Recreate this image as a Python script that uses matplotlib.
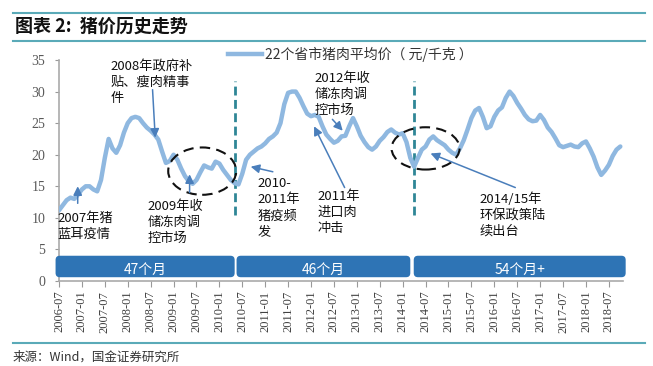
import numpy as np
import pandas as pd
import matplotlib
matplotlib.use("Agg")
import matplotlib.pyplot as plt
from matplotlib.patches import Ellipse, FancyBboxPatch

plt.rcParams["font.family"] = ["Noto Sans CJK SC", "DejaVu Sans"]

# monthly average pork price, 2006-07 .. 2018-10
price = [
    11.2, 12.0, 12.8, 13.2, 13.0, 13.7, 14.5, 15.0, 15.0, 14.5,
    14.2, 16.0, 19.5, 22.5, 21.0, 20.3, 21.5, 23.5, 25.0, 25.8,
    26.0, 25.8, 25.0, 24.3, 23.8, 23.2, 22.4, 20.5, 18.7, 19.0,
    20.0, 19.2, 17.8, 16.6, 15.8, 15.4, 16.0, 17.2, 18.3, 18.0,
    17.8, 18.9, 18.6, 17.6, 16.8, 16.0, 15.5, 15.3, 17.0, 19.2,
    20.0, 20.5, 21.0, 21.3, 21.8, 22.5, 22.9, 23.5, 25.0, 28.0,
    29.8, 30.0, 30.0, 29.0, 27.7, 26.5, 26.1, 26.3, 26.0, 24.5,
    23.2, 22.5, 21.9, 22.2, 22.9, 23.0, 24.5, 25.8, 24.5, 23.0,
    22.0, 21.2, 20.8, 21.3, 22.2, 22.8, 23.6, 24.0, 23.5, 23.2,
    23.4, 22.0, 19.5, 18.1, 19.5, 20.8, 21.3, 22.4, 22.9, 22.3,
    21.9, 21.5, 20.8, 20.3, 20.0, 21.0, 22.3, 24.0, 25.8, 27.0,
    27.4, 26.0, 24.2, 24.5, 26.0, 27.0, 27.5, 29.0, 30.0, 29.3,
    28.2, 27.3, 26.3, 25.6, 25.3, 25.4, 26.3, 25.5, 24.3, 23.6,
    22.6, 21.5, 21.2, 21.4, 21.6, 21.3, 21.2, 21.8, 22.1, 21.0,
    19.7, 18.0, 16.8, 17.5, 18.4, 19.8, 20.8, 21.3,
]
months = pd.date_range("2006-07", periods=len(price), freq="MS")
series_name = "22个省市猪肉平均价（ 元/千克 ）"

# cycles: label, first month index, last month index
cycle_labels = ["47个月", "46个月", "54个月+"]
cycle_start = [-0.9, 46.5, 92.9]
cycle_end = [46.0, 92.0, 148.4]
cycle_breaks = [46, 93]

# annotations: text, arrow tail (x, y), arrow head (x, y), text top-left
notes = [
    ("2007年猪\n蓝耳疫情", (4.9, 12.3), (4.9, 15.0), (-0.4, 10.9)),
    ("2008年政府补\n贴、瘦肉精事\n件", (24.5, 30.3), (25.2, 22.7), (13.5, 35.0)),
    ("2009年收\n储冻肉调\n控市场", (34.2, 14.0), (34.2, 16.9), (23.2, 12.9)),
    ("2010-\n2011年\n猪疫频\n发", (56.0, 17.3), (50.2, 18.1), (52.0, 16.4)),
    ("2011年\n进口肉\n冲击", (74.8, 14.8), (66.8, 24.5), (67.7, 14.4)),
    ("2012年收\n储冻肉调\n控市场", (71.6, 25.6), (74.3, 23.8), (66.9, 33.1)),
    ("2014/15年\n环保政策陆\n续出台", (119.5, 14.8), (97.3, 20.2), (110.1, 14.1)),
]
circles = [(37.5, 17.4, 17.8, 7.5), (96.0, 21.0, 17.8, 6.7)]

W, H = 653, 366
fig = plt.figure(figsize=(W / 100, H / 100), dpi=100)
ax = fig.add_axes([59 / W, 1 - 281 / H, (623 - 59) / W, (281 - 60) / H])

x = np.arange(len(price))
ax.plot(x, price, color="#8fb8e0", lw=3.2, solid_joinstyle="round",
        solid_capstyle="round", zorder=3)

for xb in cycle_breaks:
    ax.plot([xb, xb], [10.5, 31.6], color="#2f8696", lw=2,
            linestyle=(0, (3.2, 1.6)), zorder=2)

for lab, s, e in zip(cycle_labels, cycle_start, cycle_end):
    box = FancyBboxPatch((s, 0.6), e - s, 3.4,
                         boxstyle="round,pad=0,rounding_size=1.1",
                         mutation_aspect=0.6, fc="#2e74b5", ec="none",
                         clip_on=False, zorder=4)
    ax.add_patch(box)
    ax.text((s + e) / 2, 1.7, lab, color="white", fontsize=10,
            ha="center", va="center", zorder=5)

for cx, cy, w, h in circles:
    ax.add_patch(Ellipse((cx, cy), w, h, fill=False, ec="#111111", lw=1.5,
                         linestyle=(0, (5, 3)), zorder=4))

for txt, tail, head, pos in notes:
    ax.annotate("", xy=head, xytext=tail,
                arrowprops=dict(arrowstyle="-|>", color="#4a7ebb", lw=1.1,
                                mutation_scale=13, shrinkA=0, shrinkB=0),
                zorder=6)
    ax.text(pos[0], pos[1], txt, fontsize=9.5, color="#111111",
            ha="left", va="top", linespacing=1.3, zorder=6)

ax.set_xlim(0, 147.7)
ax.set_ylim(0, 35)
ax.set_yticks(range(0, 36, 5))
tick_idx = list(range(0, len(price), 6))
ax.set_xticks(tick_idx)
ax.set_xticklabels([months[i].strftime("%Y-%m") for i in tick_idx],
                   rotation=90, fontfamily="Liberation Serif", fontsize=9,
                   color="#404040")
for t in ax.get_yticklabels():
    t.set_fontfamily("Liberation Serif")
    t.set_fontsize(10)
    t.set_color("#595959")
ax.tick_params(axis="y", length=3, pad=7, color="#999999")
ax.tick_params(axis="x", length=4, pad=3, color="#999999")
for side in ["top", "right"]:
    ax.spines[side].set_visible(False)
for side in ["left", "bottom"]:
    ax.spines[side].set_color("#aaaaaa")
    ax.spines[side].set_linewidth(1.2)

# legend placed above the plot
fig.add_artist(plt.Line2D([228 / W, 262 / W], [1 - 54 / H, 1 - 54 / H],
                          color="#8fb8e0", lw=3.2))
fig.text(265 / W, 1 - 54 / H, series_name, fontsize=10, color="#333333",
         va="center", ha="left")

# header / footer rules and text
for yy in [13, 41, 343]:
    fig.add_artist(plt.Line2D([13 / W, 645 / W], [1 - yy / H, 1 - yy / H],
                              color="#5aaab8", lw=1.5))
fig.text(15 / W, 1 - 26 / H, "图表 2:  猪价历史走势", fontsize=13,
         fontweight="bold", color="#111111", va="center", ha="left")
fig.text(13 / W, 1 - 357 / H, "来源：Wind，国金证券研究所", fontsize=9,
         color="#333333", va="center", ha="left")

fig.savefig("out.png", dpi=100)
